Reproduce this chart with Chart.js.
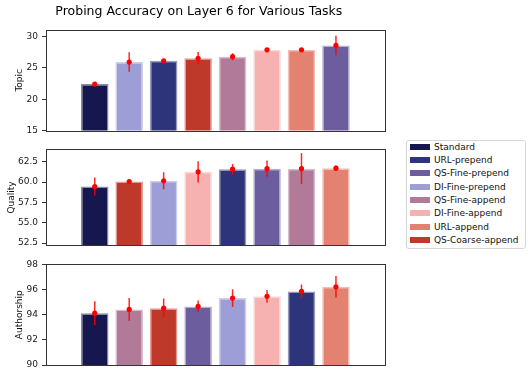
<!DOCTYPE html>
<html>
<head>
<meta charset="utf-8">
<script src="https://cdn.jsdelivr.net/npm/chart.js@4.4.0/dist/chart.umd.min.js"></script>
<style>
  body { margin: 0; background: #fff; }
  #wrap { position: relative; width: 530px; height: 377px; font-family: 'DejaVu Sans', sans-serif; }
  #wrap canvas { position: absolute; left: 0; }
  #legend {
    position: absolute; left: 406px; top: 140px; width: 118px; height: 107px;
    border: 1px solid #d6d6d6; border-radius: 3px; background: #fff;
  }
  .item { position: absolute; left: 0; height: 12px; font-size: 9px; line-height: 12px; color: #111; white-space: nowrap; }
  .item span.patch { position: absolute; left: 3px; top: 3px; width: 20px; height: 6px; }
  .item span.txt { position: absolute; left: 27px; top: 0; }
</style>
</head>
<body>
<div id="wrap">
  <canvas id="topicChart" width="400" height="140" style="top:0px"></canvas>
  <canvas id="qualityChart" width="400" height="115" style="top:140px"></canvas>
  <canvas id="authorChart" width="400" height="122" style="top:255px"></canvas>
  <div id="legend"></div>
</div>
<script>
// legend order + colours
const methods = ['Standard', 'URL-prepend', 'QS-Fine-prepend', 'DI-Fine-prepend',
                 'QS-Fine-append', 'DI-Fine-append', 'URL-append', 'QS-Coarse-append'];
const methodColors = ['#171750', '#2e347a', '#6b5d9e', '#9e9ed6',
                      '#b07a98', '#f5b2b0', '#e48272', '#bf392b'];

// Topic panel
const topicLabels = ['Standard', 'DI-Fine-prepend', 'URL-prepend', 'QS-Coarse-append',
                     'QS-Fine-append', 'DI-Fine-append', 'URL-append', 'QS-Fine-prepend'];
const topicValues = [22.4, 25.9, 26.1, 26.5, 26.75, 27.85, 27.85, 28.55];
const topicErrors = [0.15, 1.55, 0.15, 1.0, 0.55, 0.1, 0.1, 1.55];
const topicTicks = [15, 20, 25, 30];

// Quality panel
const qualityLabels = ['Standard', 'QS-Coarse-append', 'DI-Fine-prepend', 'DI-Fine-append',
                       'URL-prepend', 'QS-Fine-prepend', 'QS-Fine-append', 'URL-append'];
const qualityValues = [59.45, 60.05, 60.15, 61.25, 61.57, 61.64, 61.64, 61.7];
const qualityErrors = [1.1, 0.25, 1.05, 1.3, 0.65, 1.0, 1.9, 0.32];
const qualityTicks = [52.5, 55.0, 57.5, 60.0, 62.5];

// Authorship panel
const authorLabels = ['Standard', 'QS-Fine-append', 'QS-Coarse-append', 'QS-Fine-prepend',
                      'DI-Fine-prepend', 'DI-Fine-append', 'URL-prepend', 'URL-append'];
const authorValues = [94.12, 94.42, 94.52, 94.66, 95.32, 95.46, 95.85, 96.22];
const authorErrors = [0.95, 0.9, 0.77, 0.47, 0.7, 0.5, 0.55, 0.86];
const authorTicks = [90, 92, 94, 96, 98];

const FONT = 'DejaVu Sans';
const colorOf = name => methodColors[methods.indexOf(name)];

// box around the plot area (matplotlib spines)
const framePlugin = {
    id: 'frame',
    afterDraw(chart) {
        const a = chart.chartArea;
        const ctx = chart.ctx;
        ctx.save();
        ctx.strokeStyle = '#333';
        ctx.lineWidth = 1;
        ctx.strokeRect(Math.round(a.left) + 0.5, Math.round(a.top) + 0.5,
                       Math.round(a.right - a.left), Math.round(a.bottom - a.top));
        ctx.restore();
    }
};

// vertical red error bars, drawn through the chart scales
const errorBarPlugin = {
    id: 'errorBars',
    afterDatasetsDraw(chart, args, opts) {
        const xs = chart.scales.x, ys = chart.scales.y;
        const ctx = chart.ctx;
        ctx.save();
        ctx.strokeStyle = 'rgba(255, 0, 0, 0.85)';
        ctx.lineWidth = 1.5;
        opts.values.forEach((v, i) => {
            const x = xs.getPixelForValue(i);
            ctx.beginPath();
            ctx.moveTo(x, ys.getPixelForValue(v - opts.errors[i]));
            ctx.lineTo(x, ys.getPixelForValue(v + opts.errors[i]));
            ctx.stroke();
        });
        ctx.restore();
    }
};

function makePanel(id, cfg) {
    const idx = cfg.labels.map((_, i) => i);
    const colors = cfg.labels.map(colorOf);
    return new Chart(document.getElementById(id), {
        type: 'bar',
        data: {
            datasets: [{
                type: 'scatter',
                data: cfg.values.map((v, i) => ({ x: i, y: v })),
                pointRadius: 2.6,
                pointBackgroundColor: '#ff0000',
                pointBorderWidth: 0,
                order: 0
            }, {
                label: cfg.title,
                data: cfg.values.map((v, i) => ({ x: i, y: v })),
                backgroundColor: colors,
                borderColor: colors.map(c => c + '80'),
                borderWidth: 1.5,
                borderSkipped: false,
                categoryPercentage: 1.0,
                barPercentage: 0.8,
                order: 1
            }]
        },
        options: {
            responsive: false,
            animation: false,
            layout: { padding: cfg.padding },
            plugins: {
                legend: { display: false },
                tooltip: { enabled: false },
                title: cfg.chartTitle ? {
                    display: true,
                    text: cfg.chartTitle,
                    color: '#000',
                    font: { family: FONT, size: 12.5, weight: 'normal' },
                    padding: { top: 4, bottom: 11 }
                } : { display: false },
                errorBars: { values: cfg.values, errors: cfg.errors }
            },
            scales: {
                x: {
                    type: 'linear',
                    display: false,
                    min: -0.8,
                    max: idx.length - 0.2,
                    afterBuildTicks: scale => { scale.ticks = idx.map(v => ({ value: v })); }
                },
                y: {
                    min: cfg.min,
                    max: cfg.max,
                    afterBuildTicks: scale => { scale.ticks = cfg.ticks.map(v => ({ value: v })); },
                    afterFit: scale => { scale.width = cfg.axisWidth; },
                    ticks: {
                        padding: 4,
                        color: '#222',
                        font: { family: FONT, size: 9 },
                        callback: v => cfg.tickFormat(v)
                    },
                    grid: { drawOnChartArea: false, drawTicks: true, tickLength: 4, color: '#333' },
                    border: { display: false },
                    title: {
                        display: true,
                        text: cfg.title,
                        color: '#111',
                        font: { family: FONT, size: 9 },
                        padding: { top: cfg.titlePad, bottom: 0 }
                    }
                }
            }
        },
        plugins: [framePlugin, errorBarPlugin]
    });
}

makePanel('topicChart', {
    labels: topicLabels, values: topicValues, errors: topicErrors, ticks: topicTicks,
    title: 'Topic', chartTitle: 'Probing Accuracy on Layer 6 for Various Tasks',
    min: 15, max: 31, tickFormat: v => String(v),
    padding: { left: 13, right: 15.3, top: 0, bottom: 8.3 }, axisWidth: 33, titlePad: 1.6
});

makePanel('qualityChart', {
    labels: qualityLabels, values: qualityValues, errors: qualityErrors, ticks: qualityTicks,
    title: 'Quality', min: 52.2, max: 64, tickFormat: v => v.toFixed(1),
    padding: { left: 0, right: 15.3, top: 6.7, bottom: 7.3 }, axisWidth: 46, titlePad: 6.1
});

makePanel('authorChart', {
    labels: authorLabels, values: authorValues, errors: authorErrors, ticks: authorTicks,
    title: 'Authorship', min: 90, max: 98, tickFormat: v => String(v),
    padding: { left: 0, right: 15.3, top: 9.3, bottom: 12 }, axisWidth: 46, titlePad: 14.6
});

// shared legend
const legend = document.getElementById('legend');
methods.forEach((m, i) => {
    const row = document.createElement('div');
    row.className = 'item';
    row.style.top = (-0.5 + i * 13.37) + 'px';
    row.innerHTML = '<span class="patch" style="background:' + methodColors[i] + '"></span>' +
                    '<span class="txt">' + m + '</span>';
    legend.appendChild(row);
});
</script>
</body>
</html>
